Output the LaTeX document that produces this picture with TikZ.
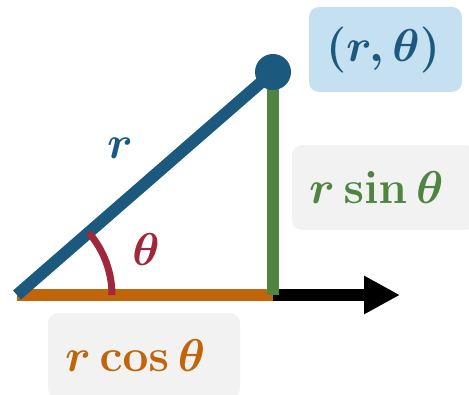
\documentclass[tikz,border=0pt]{standalone}
\usepackage{amsmath}
\usepackage{graphicx}
\usetikzlibrary{arrows.meta}
\definecolor{polblue}{HTML}{1B5A7E}
\definecolor{polgreen}{HTML}{4F8540}
\definecolor{polorange}{HTML}{C0650A}
\definecolor{polred}{HTML}{A0283C}
\definecolor{boxblue}{HTML}{C5E1F1}
\definecolor{boxgray}{HTML}{F2F2F2}
\newcommand{\polmath}[1]{\scalebox{1.85}{$#1$}}
\tikzset{
  bigmath/.style={font=\Huge\boldmath},
  labelbox/.style={bigmath, rounded corners=10pt, minimum height=85pt, align=left, inner xsep=17pt}
}
\begin{document}
\begin{tikzpicture}[x=1pt,y=1pt]
  \useasboundingbox (0,0) rectangle (469,394);
  \coordinate (O) at (17,99);
  \coordinate (P) at (273,322);
  \coordinate (F) at (273,99);
  \coordinate (E) at (400,99);
  % label boxes
  \node[labelbox, fill=boxblue, text=polblue, minimum width=153pt, text width=119pt] (pt) at (385.5,344.5) {\polmath{(r,\theta)}};
  \node[labelbox, fill=boxgray, text=polgreen, minimum width=183pt, text width=149pt] (sn) at (383.5,206.5) {\polmath{r\sin\theta}};
  \node[labelbox, fill=boxgray, text=polorange, minimum width=192pt, text width=158pt] (cs) at (144,38.5) {\polmath{r\cos\theta}};
  % axis and sides
  \draw[line width=12pt, -{Triangle[length=36pt,width=36pt]}] (F) -- (E);
  \draw[line width=12pt, polorange] (O) -- (F);
  \draw[line width=12pt, polgreen] (F) -- (P);
  \draw[line width=12pt, polblue] (O) -- (P);
  \fill[polblue] (P) circle (18pt);
  % angle
  \draw[line width=7pt, polred] ([shift={(0:95pt)}]O) arc[start angle=0, end angle=41, radius=95pt];
  \node[bigmath, text=polred] (th) at (146,144) {\polmath{\theta}};
  \node[bigmath, text=polblue] (rr) at (120,246) {\polmath{r}};
\end{tikzpicture}
\end{document}
